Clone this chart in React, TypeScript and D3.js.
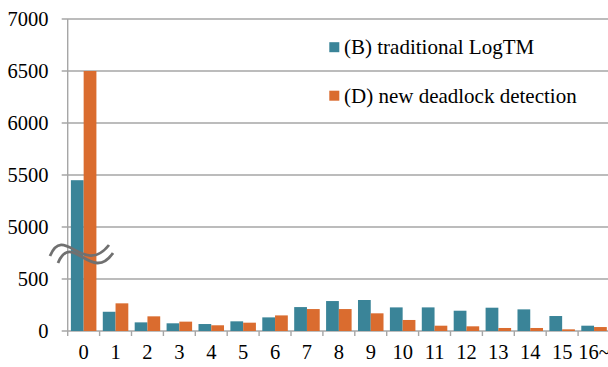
import React from "react";
import * as d3 from "d3";

const categories = ["0", "1", "2", "3", "4", "5", "6", "7", "8", "9", "10", "11", "12", "13", "14", "15", "16~"];
const seriesB = [5450, 185, 83, 74, 67, 93, 131, 230, 288, 298, 227, 227, 195, 224, 208, 144, 51];
const seriesD = [6500, 266, 141, 90, 55, 80, 150, 211, 211, 170, 106, 51, 45, 29, 29, 16, 38];
const yTicks = [0, 500, 5000, 5500, 6000, 6500, 7000];
const seriesNames = ["(B) traditional LogTM", "(D) new deadlock detection"];
const colors = ["#3A8498", "#DA6C2F"];

const W = 608;
const H = 367;

export default function App() {
  const x0 = 67.7;
  const step = 31.9;
  const x = d3.scaleBand<string>()
    .domain(categories)
    .range([x0, x0 + step * categories.length])
    .paddingInner(0.2)
    .paddingOuter(0.1);
  const y = d3.scaleLinear().domain([0, 500, 5000, 7000]).range([331, 279, 227, 19]);
  const bw = x.bandwidth() / 2;
  const grid = "#A6A6A6";
  const yb = (y(500) + y(5000)) / 2;

  const upper = `M${x0 - 17.7},${yb + 3} C${x0 - 4},${yb - 30} ${x0 + 16},${yb + 24} ${x0 + 41.3},${yb - 8}`;
  const lower = `M${x0 - 9.7},${yb + 10} C${x0 + 4},${yb - 23} ${x0 + 24},${yb + 31} ${x0 + 45.3},${yb + 0}`;

  return (
    <svg width={W} height={H} style={{ position: "absolute", left: 0, top: 0, background: "#fff" }}>
      <style>{`text { font-family: "Liberation Serif", serif; }`}</style>
      {yTicks.map((t) => (
        <g key={t}>
          <line x1={x0 - 6} x2={W} y1={y(t)} y2={y(t)} stroke={grid} strokeWidth={1.4} />
          <text x={48.5} y={y(t) + 6.8} textAnchor="end" fontSize="20.5px" fill="#000">{t}</text>
        </g>
      ))}
      <line x1={x0} x2={x0} y1={y(7000)} y2={y(0) + 5} stroke={grid} strokeWidth={1.4} />
      {categories.map((c, i) => (
        <line key={"t" + c} x1={x0 + step * (i + 1)} x2={x0 + step * (i + 1)} y1={y(0)} y2={y(0) + 5} stroke={grid} strokeWidth={1.4} />
      ))}
      {categories.map((c) => (
        <text key={"l" + c} x={(x(c) as number) + x.bandwidth() / 2} y={358.5} textAnchor="middle" fontSize="20.5px" fill="#000">{c}</text>
      ))}
      {categories.map((c, i) => (
        <g key={"b" + c}>
          <rect x={x(c) as number} y={y(seriesB[i])} width={bw} height={y(0) - y(seriesB[i])} fill={colors[0]} />
          <rect x={(x(c) as number) + bw} y={y(seriesD[i])} width={bw} height={y(0) - y(seriesD[i])} fill={colors[1]} />
        </g>
      ))}
      <path d={upper} fill="none" stroke="#707070" strokeWidth={2.8} />
      <path d={lower} fill="none" stroke="#707070" strokeWidth={2.8} />
      {seriesNames.map((n, i) => (
        <g key={n}>
          <rect x={329.3} y={42.2 + i * 48.5} width={10} height={10} fill={colors[i]} />
          <text x={344} y={54.3 + i * 48.5} fontSize="21px" fill="#000">{n}</text>
        </g>
      ))}
    </svg>
  );
}
